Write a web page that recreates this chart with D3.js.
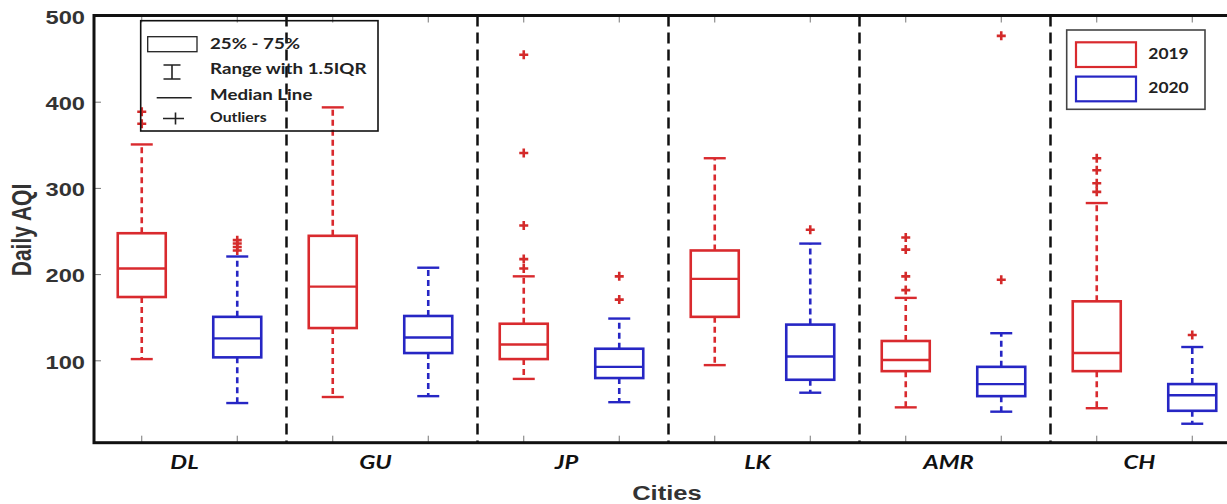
<!DOCTYPE html>
<html>
<head>
<meta charset="utf-8">
<script src="https://cdn.jsdelivr.net/npm/d3@7"></script>
<style>
  html, body { margin: 0; padding: 0; background: #fff; }
  svg { display: block; }
</style>
</head>
<body>
<svg id="chart" width="1227" height="504"></svg>
<script>
// ---------- data ----------
const cities = ["DL", "GU", "JP", "LK", "AMR", "CH"];
const years = ["2019", "2020"];
const yTicks = [100, 200, 300, 400, 500];

const lower2019  = [102, 58, 79, 95, 46, 45];
const q1_2019    = [174, 138, 102, 151, 88, 88];
const median2019 = [207, 186, 119, 195, 101, 109];
const q3_2019    = [248, 245, 143, 228, 123, 169];
const upper2019  = [351, 394, 198, 335, 173, 283];
const outliers2019 = [[375, 389], [], [207, 218, 257, 341, 455], [], [182, 198, 229, 243], [296, 306, 321, 335]];

const lower2020  = [51, 59, 52, 63, 41, 27];
const q1_2020    = [104, 109, 80, 78, 59, 42];
const median2020 = [126, 127, 93, 105, 73, 60];
const q3_2020    = [151, 152, 114, 142, 93, 73];
const upper2020  = [221, 208, 149, 236, 132, 116];
const outliers2020 = [[228, 232, 236, 240], [], [171, 198], [252], [194, 477], [130]];

const legendItems = ["25% - 75%", "Range with 1.5IQR", "Median Line", "Outliers"];

// ---------- build ----------
const RED = "#d92a2e", BLUE = "#2626c4", OUT = "#d42a2a";
const seriesInfo = {
  "2019": {color: RED, lo: lower2019, q1: q1_2019, med: median2019, q3: q3_2019, hi: upper2019, out: outliers2019},
  "2020": {color: BLUE, lo: lower2020, q1: q1_2020, med: median2020, q3: q3_2020, hi: upper2020, out: outliers2020}
};
const boxes = [];
cities.forEach((c, i) => years.forEach(yr => {
  const s = seriesInfo[yr];
  boxes.push({key: c + "-" + yr, city: c, year: yr, color: s.color,
    lo: s.lo[i], q1: s.q1[i], med: s.med[i], q3: s.q3[i], hi: s.hi[i], out: s.out[i]});
}));

const svg = d3.select("#chart");
const L = 94, R = 1240, T = 15.5, B = 442.7;
const SX = 1.28; // horizontal stretch of the original picture's text

const x = d3.scaleBand().domain(boxes.map(d => d.key)).range([L, R]).padding(0);
const xc = d => x(d.key) + x.bandwidth() / 2;
const xCity = d3.scaleBand().domain(cities).range([L, R]).padding(0);
const y = d3.scaleLinear().domain([5, 500]).range([B, 16]);

function sText(parent, px, py, str, o) {
  const g = parent.append("g").attr("transform", `translate(${px},${py}) scale(${o.sx || SX},1)`);
  return g.append("text").text(str)
    .attr("font-family", o.family || "'Liberation Sans', Arial, sans-serif")
    .attr("font-size", o.size).attr("font-weight", o.weight || "bold")
    .attr("font-style", o.style || "normal")
    .attr("fill", o.fill || "#2b2b2b")
    .attr("text-anchor", o.anchor || "start")
    .attr("dominant-baseline", o.baseline || "alphabetic");
}

// ticks (inward, grey)
const tickG = svg.append("g");
yTicks.forEach(t => {
  tickG.append("line").attr("x1", L).attr("x2", L + 7).attr("y1", y(t)).attr("y2", y(t))
    .attr("stroke", "#777").attr("stroke-width", 1);
  tickG.append("line").attr("x1", R - 7).attr("x2", R).attr("y1", y(t)).attr("y2", y(t))
    .attr("stroke", "#777").attr("stroke-width", 1);
  sText(svg, 85, y(t) + 3, String(t), {size: 18.5, anchor: "end", baseline: "middle", fill: "#333"});
});
boxes.forEach(d => {
  tickG.append("line").attr("x1", xc(d)).attr("x2", xc(d)).attr("y1", B).attr("y2", B - 7)
    .attr("stroke", "#777").attr("stroke-width", 1);
  tickG.append("line").attr("x1", xc(d)).attr("x2", xc(d)).attr("y1", T).attr("y2", T + 7)
    .attr("stroke", "#777").attr("stroke-width", 1);
});

// dividers between cities
svg.append("g").selectAll("line").data(cities.slice(1)).join("line")
  .attr("x1", c => xCity(c) + 1.5).attr("x2", c => xCity(c) + 1.5)
  .attr("y1", T).attr("y2", B)
  .attr("stroke", "#111").attr("stroke-width", 2.5).attr("stroke-dasharray", "11,6");

// boxes
const bw = 48, cw = 22;
const bg = svg.append("g").selectAll("g").data(boxes).join("g");
bg.append("line").attr("x1", xc).attr("x2", xc).attr("y1", d => y(d.q3)).attr("y2", d => y(d.hi))
  .attr("stroke", d => d.color).attr("stroke-width", 2.6).attr("stroke-dasharray", "6,4");
bg.append("line").attr("x1", xc).attr("x2", xc).attr("y1", d => y(d.q1)).attr("y2", d => y(d.lo))
  .attr("stroke", d => d.color).attr("stroke-width", 2.6).attr("stroke-dasharray", "6,4");
bg.append("line").attr("x1", d => xc(d) - cw / 2).attr("x2", d => xc(d) + cw / 2)
  .attr("y1", d => y(d.hi)).attr("y2", d => y(d.hi)).attr("stroke", d => d.color).attr("stroke-width", 2.4);
bg.append("line").attr("x1", d => xc(d) - cw / 2).attr("x2", d => xc(d) + cw / 2)
  .attr("y1", d => y(d.lo)).attr("y2", d => y(d.lo)).attr("stroke", d => d.color).attr("stroke-width", 2.4);
bg.append("rect").attr("x", d => xc(d) - bw / 2).attr("width", bw)
  .attr("y", d => y(d.q3)).attr("height", d => y(d.q1) - y(d.q3))
  .attr("fill", "none").attr("stroke", d => d.color).attr("stroke-width", 2.6);
bg.append("line").attr("x1", d => xc(d) - bw / 2).attr("x2", d => xc(d) + bw / 2)
  .attr("y1", d => y(d.med)).attr("y2", d => y(d.med)).attr("stroke", d => d.color).attr("stroke-width", 2.4);
bg.each(function(d) {
  const g = d3.select(this);
  d.out.forEach(v => {
    g.append("path").attr("d", `M${xc(d) - 4.5},${y(v)}h9M${xc(d)},${y(v) - 4.5}v9`)
      .attr("stroke", OUT).attr("stroke-width", 2.6).attr("fill", "none");
  });
});

// frame
svg.append("rect").attr("x", L).attr("y", T).attr("width", R - L).attr("height", B - T)
  .attr("fill", "none").attr("stroke", "#111").attr("stroke-width", 3);

// category labels
cities.forEach(c => {
  sText(svg, xCity(c) + xCity.bandwidth() / 2 - 5, 468.5, c,
    {size: 19, family: "Lato, 'Open Sans', sans-serif", style: "italic", anchor: "middle", fill: "#111", sx: 1.25});
});
// axis titles
sText(svg, (L + R) / 2, 499.5, "Cities", {size: 20, anchor: "middle", fill: "#333"});
svg.append("g").attr("transform", "translate(31,230) scale(1.28,1) rotate(-90)")
  .append("text").text("Daily AQI")
  .attr("font-family", "'Liberation Sans', Arial, sans-serif").attr("font-size", 21)
  .attr("font-weight", "bold").attr("fill", "#333").attr("text-anchor", "middle");

// legend 1 (box plot explanation)
const lg = svg.append("g");
lg.append("rect").attr("x", 140.7).attr("y", 20.7).attr("width", 237.3).attr("height", 110.3)
  .attr("fill", "none").attr("stroke", "#111").attr("stroke-width", 1.6);
lg.append("rect").attr("x", 147.7).attr("y", 36.7).attr("width", 49.3).attr("height", 15)
  .attr("fill", "none").attr("stroke", "#222").attr("stroke-width", 1.3);
lg.append("path").attr("d", "M163.5,65h17M172,65v14M163.5,79h17").attr("stroke", "#222").attr("stroke-width", 1.6).attr("fill", "none");
lg.append("path").attr("d", "M156.7,97.7h35").attr("stroke", "#222").attr("stroke-width", 1.6);
lg.append("path").attr("d", "M163,118.5h21M175.5,112.5v12").attr("stroke", "#222").attr("stroke-width", 1.6).attr("fill", "none");
const lgY = [44.5, 70, 95.5, 118.5];
const lgSize = [16, 16, 16, 13.5];
legendItems.forEach((t, i) => {
  sText(lg, 210, lgY[i], t, {size: lgSize[i], family: "Lato, 'Open Sans', sans-serif", baseline: "middle", fill: "#222", sx: 1.17});
});

// legend 2 (years)
const lg2 = svg.append("g");
lg2.append("rect").attr("x", 1066.7).attr("y", 30).attr("width", 138.3).attr("height", 79.3)
  .attr("fill", "#fff").attr("stroke", "#444").attr("stroke-width", 1.6);
years.forEach((yr, i) => {
  lg2.append("rect").attr("x", 1076).attr("y", 42.3 + i * 34.3).attr("width", 60).attr("height", 24.7)
    .attr("fill", "none").attr("stroke", seriesInfo[yr].color).attr("stroke-width", 2.2);
  sText(lg2, 1148.3, 55 + i * 34.3, yr, {size: 14.5, family: "Lato, 'Open Sans', sans-serif", baseline: "middle", fill: "#222", sx: 1.2});
});
</script>
</body>
</html>
